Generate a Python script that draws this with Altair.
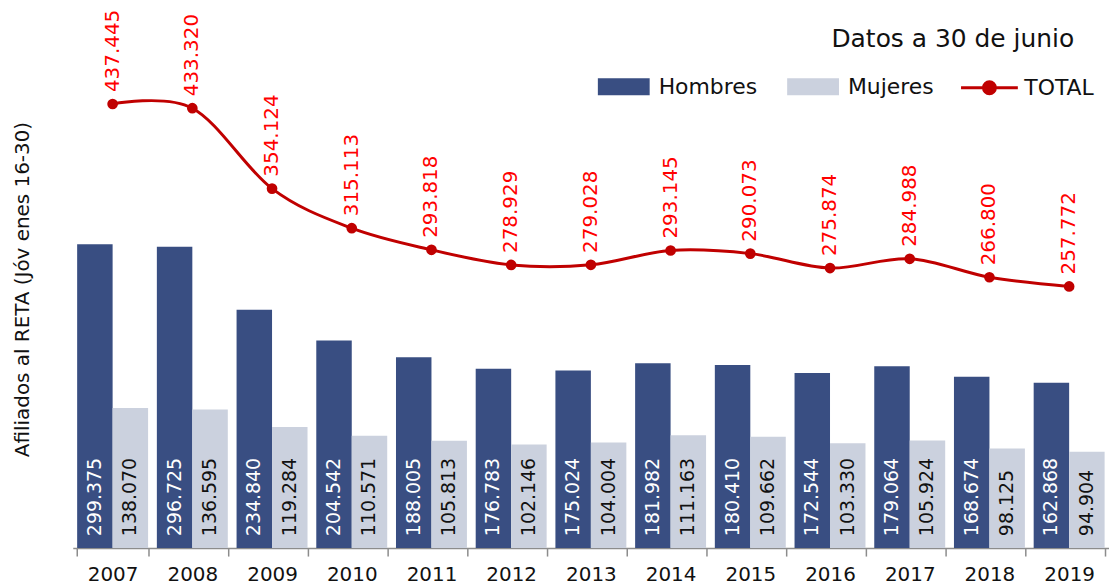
import altair as alt
import pandas as pd

years = ["2007", "2008", "2009", "2010", "2011", "2012", "2013", "2014", "2015", "2016", "2017", "2018", "2019"]
hombres = [299375, 296725, 234840, 204542, 188005, 176783, 175024, 181982, 180410, 172544, 179064, 168674, 162868]
mujeres = [138070, 136595, 119284, 110571, 105813, 102146, 104004, 111163, 109662, 103330, 105924, 98125, 94904]
total = [437445, 433320, 354124, 315113, 293818, 278929, 279028, 293145, 290073, 275874, 284988, 266800, 257772]

FONT = "DejaVu Sans"
NAVY = "#394E82"
LIGHT = "#CBD1DE"
DARKRED = "#C00000"


def fmt(v):
    return f"{v:,}".replace(",", ".")


rows = []
for y, h, m in zip(years, hombres, mujeres):
    rows.append({"year": y, "serie": "Hombres", "value": h, "label": fmt(h)})
    rows.append({"year": y, "serie": "Mujeres", "value": m, "label": fmt(m)})
bars_df = pd.DataFrame(rows)
tot_df = pd.DataFrame({"year": years, "total": total, "label": [fmt(t) for t in total], "serie": "TOTAL"})

x_enc = alt.X(
    "year:N",
    title=None,
    scale=alt.Scale(paddingInner=0.11, paddingOuter=0.055),
    axis=alt.Axis(
        labelAngle=0, labelFontSize=20, labelFont=FONT, labelColor="#111111",
        labelPadding=9, tickBand="extent", tickSize=8, tickColor="#8C8C8C",
        domainColor="#8C8C8C", domainWidth=1.5, tickWidth=1.5, grid=False,
    ),
)
xoff = alt.XOffset("serie:N", scale=alt.Scale(domain=["Hombres", "Mujeres"], paddingInner=0, paddingOuter=0))
yscale = alt.Scale(domain=[0, 531000], nice=False, zero=True)

bars = alt.Chart(bars_df).mark_bar().encode(
    x=x_enc,
    xOffset=xoff,
    y=alt.Y(
        "value:Q",
        scale=yscale,
        axis=alt.Axis(
            title="Afiliados al RETA (Jóv enes 16-30)", labels=False, ticks=False,
            domain=False, grid=False, titleFontSize=20, titleFont=FONT,
            titleFontWeight="normal", titleColor="#111111", titlePadding=40,
            titleY=281,
        ),
    ),
    color=alt.Color(
        "serie:N",
        scale=alt.Scale(domain=["Hombres", "Mujeres"], range=[NAVY, LIGHT]),
        legend=alt.Legend(
            title=None, orient="none", legendX=527, legendY=52, direction="horizontal",
            symbolType="M-1,-0.33H1V0.33H-1Z", symbolSize=2704, symbolStrokeWidth=0,
            labelFontSize=22, labelFont=FONT, labelColor="#111111", labelOffset=9,
            columnPadding=30,
        ),
    ),
)

bar_labels = alt.Chart(bars_df).mark_text(
    angle=270, align="left", baseline="middle", dx=12, fontSize=19, font=FONT
).encode(
    x=alt.X("year:N"),
    xOffset=xoff,
    y=alt.datum(0),
    text="label:N",
    color=alt.condition(alt.datum.serie == "Hombres", alt.value("white"), alt.value("#111111")),
)

tot_color = alt.Color(
    "serie:N",
    scale=alt.Scale(domain=["TOTAL"], range=[DARKRED]),
    legend=alt.Legend(
        title=None, orient="none", legendX=890, legendY=49, direction="horizontal",
        symbolType="M-1,0L1,0M0.21,0A0.21,0.21 0 1,1 -0.21,0A0.21,0.21 0 1,1 0.21,0",
        symbolSize=3249, symbolStrokeWidth=3, symbolFillColor=DARKRED, symbolStrokeColor=DARKRED,
        labelFontSize=22, labelFont=FONT, labelColor="#111111", labelOffset=5,
    ),
)

line = alt.Chart(tot_df).mark_line(strokeWidth=3, interpolate="cardinal", tension=0.0).encode(
    x=alt.X("year:N"),
    y=alt.Y("total:Q", scale=yscale),
    color=tot_color,
)
points = alt.Chart(tot_df).mark_point(filled=True, size=115, opacity=1).encode(
    x=alt.X("year:N"),
    y=alt.Y("total:Q", scale=yscale),
    color=tot_color,
)
tot_labels = alt.Chart(tot_df).mark_text(
    angle=270, align="left", baseline="middle", dx=12, fontSize=20, font=FONT, color="#FF0000"
).encode(
    x=alt.X("year:N"),
    y=alt.Y("total:Q", scale=yscale),
    text="label:N",
)

note = alt.Chart(alt.Data(values=[{"t": "Datos a 30 de junio"}])).mark_text(
    align="right", baseline="middle", fontSize=25, font=FONT, color="#111111"
).encode(x=alt.value(1005), y=alt.value(30), text="t:N")

chart = alt.layer(
    bars, alt.layer(line, points), bar_labels, tot_labels, note
).resolve_scale(color="independent").properties(
    width=1040, height=541, padding={"left": 5, "top": 0, "right": 0, "bottom": 0}
).configure_view(stroke=None)

chart.save("out.html", embed_options={"renderer": "svg", "actions": False})
